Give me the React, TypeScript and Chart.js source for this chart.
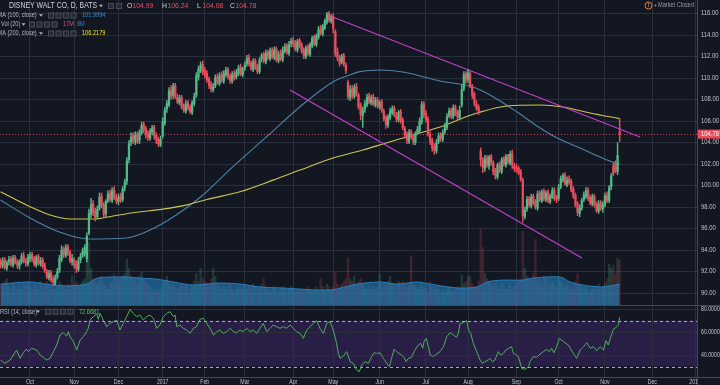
import React, { useEffect, useRef } from 'react';
import { Chart, registerables } from 'chart.js';
Chart.register(...registerables);

// ---------------- DATA ----------------
const monthTickIdx = [14, 35, 56, 77, 97, 116, 139, 158, 180, 202, 222, 245, 265, 287, 309.5, 329.8];
const monthLabels = ['Oct', 'Nov', 'Dec', '2017', 'Feb', 'Mar', 'Apr', 'May', 'Jun', 'Jul', 'Aug', 'Sep', 'Oct', 'Nov', 'Dec', '2018'];
const priceTicks = [90, 92, 94, 96, 98, 100, 102, 104, 106, 108, 110, 112, 114, 116];
const rsiTicks = [40, 60, 80];
const rsiBand = [70, 30];
const lastPrice = 104.78;

const opens = [
  92.9, 92.5, 93.1, 92.3, 92.9, 93.2, 92.6, 93.3, 92.9, 92.5, 92.9, 93.5, 93.0, 92.7,
  93.2, 93.6, 93.2, 92.6, 93.4, 92.7, 93.1, 92.6, 92.0, 91.4, 91.9, 91.3, 90.9, 91.5, 92.1, 93.1, 94.1, 93.5, 94.3, 93.8, 92.9,
  93.1, 92.7, 92.2, 93.1, 93.5, 93.7, 93.2, 95.6, 97.3, 98.3, 97.6, 97.1, 97.9, 99.0, 98.2, 97.4, 98.6, 99.3, 98.6, 99.6, 98.9,
  98.5, 99.0, 98.7, 99.8, 100.4, 102.4, 104.0, 104.6, 104.1, 104.8, 104.2, 104.9, 105.7, 105.3, 104.8, 104.4, 105.0, 105.4, 104.7, 104.3, 103.8,
  104.6, 105.8, 107.1, 107.5, 108.9, 108.4, 109.3, 108.2, 107.7, 108.2, 107.4, 106.9, 107.7, 107.3, 106.8, 107.6, 108.4, 110.1, 110.7, 111.3,
  110.7, 110.4, 109.9, 109.4, 108.9, 109.3, 110.1, 109.5, 110.3, 109.7, 110.3, 110.8, 110.2, 109.7, 110.4, 110.1, 110.4, 111.0, 110.3,
  110.9, 111.3, 111.9, 111.4, 110.8, 111.6, 111.1, 110.6, 111.8, 112.2, 111.5, 112.4, 111.8, 112.6, 111.9, 112.7, 111.6, 112.3, 111.7, 112.5, 113.0, 112.3, 113.2,
  113.5, 113.3, 112.6, 113.5, 113.1, 112.6, 112.0, 112.9, 112.2, 113.0, 113.8, 113.1, 113.8, 114.6, 114.1, 114.7, 115.2, 116.0, 115.3,
  115.7, 114.3, 112.4, 111.8, 111.5, 112.1, 111.2, 109.6, 108.2, 109.0, 108.3, 109.2, 108.4, 107.5, 106.5, 107.1, 107.5, 108.3, 107.7, 108.2, 107.5, 108.0,
  107.3, 107.8, 106.9, 106.3, 105.6, 106.3, 106.8, 107.2, 106.5, 106.1, 106.9, 106.1, 105.3, 104.8, 104.1, 105.0, 104.6, 104.0, 104.9, 105.1, 105.9, 107.6,
  106.7, 106.2, 104.7, 104.2, 103.6, 103.2, 104.1, 104.7, 104.3, 105.0, 105.4, 106.5, 107.0, 106.4, 107.3, 106.8, 106.3, 107.5, 109.0, 110.4,
  109.9, 110.4, 109.2, 108.5, 107.6, 107.3, 103.2, 102.3, 101.6, 102.6, 101.8, 102.7, 102.1, 101.4, 100.8, 102.0, 101.3, 102.5, 101.9, 102.8, 102.1, 103.0, 101.8,
  101.7, 101.6, 101.3, 100.5, 97.1, 97.8, 98.8, 98.1, 99.0, 98.5, 97.9, 99.3, 98.6, 99.5, 98.7, 99.4, 98.5, 98.9, 99.6, 98.9,
  98.8, 99.9, 100.5, 101.0, 100.1, 100.6, 100.4, 99.7, 99.1, 98.3, 97.4, 97.9, 98.7, 99.0, 99.6, 98.9, 98.3, 99.0, 98.3, 97.6, 98.4, 97.8,
  98.2, 99.1, 98.6, 99.9, 101.8, 102.0, 101.3, 104.99,
];
const highs = [
  93.2, 93.3, 93.3, 93.0, 93.4, 93.4, 93.5, 93.5, 93.1, 93.1, 93.7, 93.8, 93.2, 93.6,
  93.8, 93.8, 93.4, 93.5, 93.6, 93.3, 93.3, 92.8, 92.2, 92.1, 92.1, 91.6, 91.7, 92.3, 93.5, 94.4, 94.3, 94.5, 94.5, 94.0, 93.6,
  93.3, 93.0, 93.3, 93.7, 94.2, 94.5, 95.6, 97.8, 98.8, 98.6, 97.9, 98.1, 99.3, 99.3, 98.4, 98.7, 99.5, 99.6, 99.8, 99.9, 99.2,
  99.2, 99.3, 99.9, 100.6, 102.6, 104.2, 104.9, 104.9, 105.0, 105.0, 105.2, 105.9, 105.9, 105.5, 105.1, 105.3, 105.6, 105.6, 104.9, 104.5, 104.6,
  106.3, 107.3, 107.9, 109.1, 109.3, 109.5, 109.5, 108.5, 108.4, 108.4, 107.6, 107.9, 107.9, 107.5, 107.9, 108.6, 110.5, 111.1, 111.5, 111.6,
  111.0, 110.7, 110.1, 109.7, 109.5, 110.3, 110.4, 110.5, 110.6, 110.7, 111.0, 111.0, 110.4, 110.6, 110.7, 110.8, 111.2, 111.3, 111.0,
  111.5, 112.1, 112.2, 111.6, 111.8, 111.8, 111.3, 111.9, 112.3, 112.4, 112.6, 112.6, 112.8, 112.8, 112.9, 112.9, 112.5, 112.6, 112.9, 113.2, 113.2, 113.4, 113.7,
  113.8, 113.5, 113.6, 113.7, 113.3, 112.8, 113.0, 113.1, 113.3, 113.9, 114.0, 114.1, 114.8, 114.9, 115.0, 115.5, 116.1, 116.2, 115.9,
  116.0, 114.5, 112.8, 112.1, 112.2, 112.3, 111.4, 109.8, 109.3, 109.3, 109.4, 109.5, 108.6, 107.7, 107.3, 107.9, 108.5, 108.6, 108.4, 108.5, 108.2, 108.2,
  107.9, 108.0, 107.1, 106.5, 106.6, 107.2, 107.4, 107.4, 106.8, 107.0, 107.1, 106.3, 105.5, 105.0, 105.2, 105.2, 104.8, 105.0, 105.5, 106.3, 107.8, 107.8,
  107.0, 106.4, 105.0, 104.4, 103.9, 104.3, 104.9, 104.9, 105.2, 105.8, 106.7, 107.2, 107.2, 107.5, 107.5, 107.0, 107.4, 109.4, 110.6, 110.6,
  110.8, 110.6, 109.4, 108.7, 107.9, 107.5, 103.5, 102.6, 102.8, 102.8, 102.8, 102.9, 102.3, 101.6, 102.1, 102.2, 102.6, 102.7, 102.9, 102.9, 103.2, 103.3, 102.1,
  102.0, 101.8, 101.5, 100.7, 98.0, 99.0, 99.0, 99.2, 99.2, 98.7, 99.5, 99.5, 99.6, 99.7, 99.5, 99.6, 99.2, 99.8, 99.8, 99.1,
  100.1, 100.9, 101.1, 101.2, 100.8, 100.9, 100.6, 99.9, 99.3, 98.5, 98.2, 98.8, 99.4, 99.8, 99.8, 99.1, 99.2, 99.2, 98.5, 98.6, 98.6, 98.5,
  99.3, 99.4, 100.0, 101.1, 102.1, 102.3, 104.0, 106.24,
];
const lows = [
  92.3, 92.3, 92.2, 92.1, 92.6, 92.5, 92.4, 92.7, 92.3, 92.2, 92.7, 92.8, 92.5, 92.5,
  92.9, 92.9, 92.5, 92.4, 92.6, 92.5, 92.3, 91.9, 91.3, 91.2, 91.0, 90.7, 90.7, 91.3, 91.9, 92.9, 93.3, 93.3, 93.5, 92.8, 92.6,
  92.3, 91.9, 92.0, 92.8, 93.3, 93.4, 92.9, 95.4, 97.0, 97.2, 96.7, 96.9, 97.7, 97.9, 97.0, 97.1, 98.4, 98.5, 98.4, 98.7, 98.3,
  98.2, 98.4, 98.5, 99.5, 100.1, 102.1, 103.7, 103.9, 103.8, 103.9, 103.9, 104.7, 104.9, 104.4, 104.2, 104.2, 104.7, 104.3, 103.9, 103.6, 103.6,
  104.4, 105.6, 106.8, 107.3, 108.0, 108.1, 108.1, 107.6, 107.5, 107.1, 106.8, 106.7, 107.0, 106.7, 106.6, 107.4, 108.2, 109.8, 110.5, 110.3,
  110.0, 109.6, 109.0, 108.7, 108.7, 109.1, 109.4, 109.3, 109.6, 109.5, 110.1, 109.9, 109.5, 109.5, 109.8, 109.9, 110.2, 110.2, 110.1,
  110.7, 111.1, 111.1, 110.7, 110.6, 110.8, 110.4, 110.4, 111.5, 111.4, 111.3, 111.7, 111.6, 111.8, 111.7, 111.5, 111.4, 111.6, 111.5, 112.3, 112.2, 112.1, 112.9,
  112.9, 112.5, 112.4, 112.8, 112.3, 111.8, 111.8, 112.1, 112.0, 112.8, 113.0, 112.9, 113.6, 114.0, 113.9, 114.5, 115.0, 115.2, 115.1,
  114.2, 112.0, 111.6, 111.1, 111.3, 111.1, 110.4, 108.0, 107.9, 108.1, 108.1, 108.3, 107.1, 106.1, 105.4, 106.8, 107.3, 107.6, 107.5, 107.4, 107.3, 107.2,
  107.1, 106.8, 106.0, 105.3, 105.4, 106.1, 106.6, 106.4, 105.9, 105.9, 105.8, 105.2, 104.4, 103.9, 103.9, 104.3, 103.8, 103.8, 104.7, 104.9, 105.7, 106.3,
  105.9, 104.6, 103.8, 103.2, 102.9, 103.0, 103.9, 104.1, 104.1, 104.8, 105.2, 106.3, 106.2, 106.2, 106.5, 106.1, 106.1, 107.3, 108.8, 109.5,
  109.6, 109.1, 108.1, 107.4, 107.0, 106.6, 101.8, 101.2, 101.3, 101.7, 101.5, 101.9, 101.0, 100.6, 100.6, 101.2, 101.1, 101.8, 101.7, 102.0, 101.9, 101.6, 101.3,
  101.2, 101.0, 100.4, 96.6, 96.9, 97.6, 98.0, 97.9, 98.2, 97.8, 97.7, 98.5, 98.4, 98.6, 98.5, 98.4, 98.3, 98.8, 98.6, 98.4,
  98.6, 99.7, 100.3, 100.0, 99.9, 100.1, 99.4, 98.8, 98.0, 97.2, 97.1, 97.7, 98.5, 98.8, 98.6, 98.2, 98.1, 98.0, 97.5, 97.4, 97.7, 97.5,
  98.0, 98.4, 98.4, 99.6, 100.9, 101.2, 101.0, 104.08,
];
const closes = [
  92.6, 93.0, 92.4, 92.8, 93.1, 92.7, 93.2, 92.9, 92.6, 92.9, 93.4, 93.0, 92.8, 93.3,
  93.5, 93.1, 92.7, 93.3, 92.8, 93.0, 92.5, 92.1, 91.5, 91.8, 91.2, 91.0, 91.4, 92.0, 93.2, 94.0, 93.6, 94.2, 93.7, 93.0, 93.2,
  92.6, 92.3, 93.0, 93.4, 93.9, 94.2, 95.3, 97.4, 98.2, 97.5, 97.0, 97.8, 98.9, 98.1, 97.3, 98.5, 99.2, 98.7, 99.5, 98.9, 98.6,
  98.9, 98.6, 99.7, 100.3, 102.3, 103.9, 104.5, 104.2, 104.7, 104.1, 104.9, 105.6, 105.2, 104.7, 104.5, 105.0, 105.3, 104.6, 104.2, 103.9, 104.3,
  105.9, 107.0, 107.6, 108.8, 108.3, 109.2, 108.3, 107.8, 108.1, 107.3, 107.0, 107.6, 107.2, 106.9, 107.7, 108.3, 110.2, 110.8, 111.2, 110.6,
  110.3, 109.8, 109.3, 109.0, 109.2, 110.0, 109.6, 110.2, 109.8, 110.4, 110.7, 110.1, 109.8, 110.3, 110.0, 110.5, 110.9, 110.4, 110.8,
  111.2, 111.8, 111.3, 110.9, 111.5, 111.0, 110.6, 111.7, 112.1, 111.6, 112.3, 111.9, 112.5, 112.0, 112.6, 111.7, 112.2, 111.8, 112.6, 112.9, 112.4, 113.1, 113.4,
  113.2, 112.7, 113.4, 113.0, 112.5, 112.1, 112.8, 112.3, 113.1, 113.7, 113.2, 113.9, 114.5, 114.2, 114.8, 115.3, 115.9, 115.4, 115.6,
  114.6, 112.3, 111.9, 111.4, 112.0, 111.3, 110.7, 108.3, 108.9, 108.4, 109.1, 108.5, 107.3, 106.6, 107.0, 107.6, 108.2, 107.8, 108.1, 107.6, 107.9, 107.4,
  107.7, 107.0, 106.2, 105.7, 106.4, 106.9, 107.1, 106.6, 106.2, 106.8, 106.0, 105.4, 104.7, 104.2, 104.9, 104.5, 104.1, 104.8, 105.2, 106.0, 107.5, 106.6,
  106.1, 104.8, 104.1, 103.5, 103.3, 104.0, 104.6, 104.4, 104.9, 105.5, 106.4, 106.9, 106.5, 107.2, 106.7, 106.4, 107.0, 108.9, 110.3, 109.8,
  110.5, 109.3, 108.4, 107.7, 107.2, 106.9, 102.4, 101.7, 102.5, 101.9, 102.6, 102.2, 101.3, 100.9, 101.9, 101.4, 102.4, 102.0, 102.7, 102.2, 102.9, 101.9, 101.6,
  101.5, 101.2, 100.6, 97.2, 97.7, 98.7, 98.2, 98.9, 98.4, 98.0, 99.2, 98.7, 99.4, 98.8, 99.3, 98.6, 99.0, 99.5, 98.8, 98.7,
  99.8, 100.6, 100.9, 100.2, 100.5, 100.3, 99.6, 99.0, 98.2, 97.5, 97.9, 98.6, 99.1, 99.5, 98.8, 98.4, 98.9, 98.2, 97.7, 98.3, 97.9, 98.2,
  99.0, 98.6, 99.8, 100.9, 101.1, 101.4, 102.8, 104.78,
];
// volume in millions
const volumes = [
  8, 7, 9, 10, 7, 6, 8, 7, 6, 7, 6, 8, 7, 8,
  7, 6, 8, 7, 6, 9, 7, 8, 9, 8, 7, 8, 6, 7, 9, 8, 7, 6, 8, 7, 11,
  8, 9, 7, 8, 9, 10, 18, 24, 14, 10, 9, 8, 9, 11, 8, 7, 6, 8, 9, 12, 10,
  9, 10, 11, 12, 17.5, 14, 11, 10, 9, 8, 11, 12.5, 10, 9, 8, 7, 6, 5, 6, 5, 6,
  8, 9, 11, 8, 7, 8, 7, 6, 7, 8, 7, 8, 7, 6, 8, 9, 12, 9, 14, 10,
  9, 8, 7, 10, 14, 11, 8, 7, 6, 7, 6, 7, 8, 6, 5, 6, 7, 6, 7,
  7, 6, 7, 6, 8, 7, 6, 7, 8, 10, 7, 6, 5, 6, 7, 6, 5, 6, 7, 6, 5, 6, 7,
  6, 5, 6, 5, 6, 5, 6, 7, 6, 5, 6, 7, 6, 10, 7, 6, 8, 7, 6,
  7, 12.6, 8, 7, 8, 9, 10, 18, 10, 9, 11, 8, 9, 10, 8, 7, 6, 7, 6, 7, 6, 7,
  11.8, 8, 7, 8, 9, 11, 8, 7, 8, 9, 8, 9, 8, 7, 8, 18.7, 8, 7, 6, 7, 8, 7,
  6, 5, 9, 7, 6, 7, 6, 5, 6, 5, 6, 7, 6, 5, 6, 7, 6, 11.5, 8, 9,
  11, 11, 8, 7, 7, 9, 29, 22, 12, 10, 9, 8, 7, 8, 7, 6, 8, 7, 6, 7, 8, 6, 7,
  8, 9, 10, 28, 14, 11, 10, 9, 12, 25, 9, 10, 8, 11, 10, 9, 8, 9, 8, 7,
  10, 9, 8, 7, 8, 7, 6, 7, 9, 12, 8, 7, 6, 7, 6, 5, 7, 6, 7, 8, 6, 7,
  8, 10, 15.6, 14, 15, 12, 18, 17,
];

const ma100Idx = [0, 14, 28, 41.6, 60, 71, 82, 95, 110.4, 126.4, 142.2, 158, 164.5, 170.7, 180.2, 191, 208.7, 224.4, 232.4, 245.3, 256.2, 264.3, 275.2, 284.7, 291.8, 294];
const ma100Vals = [98.65, 96.98, 95.67, 95.02, 95.12, 95.86, 97.07, 98.93, 101.75, 104.54, 107.33, 109.66, 110.19, 110.59, 110.74, 110.56, 109.72, 109.16, 108.42, 106.84, 105.35, 104.42, 103.49, 102.65, 102.1, 101.9994];

const ma200Idx = [0, 14, 23.5, 33, 44, 52, 63, 77, 88.6, 98, 113.7, 129.4, 142.2, 157.9, 172, 181.6, 195.9, 208.7, 219.6, 226.3, 240.5, 256.2, 267.1, 279.9, 294];
const ma200Vals = [99.42, 98.03, 97.26, 96.88, 96.88, 97.1, 97.47, 97.8, 98.2, 98.7, 99.42, 100.5, 101.44, 102.56, 103.3, 103.86, 104.7, 105.44, 106.28, 106.74, 107.4, 107.49, 107.3, 106.74, 106.2179];

const volMaIdx = [0, 14, 22, 31.6, 41, 46, 60, 66, 74, 82, 91.4, 103, 114, 123, 134, 156.5, 169.3, 180.2, 188.3, 197.8, 204, 216.8, 226.3, 231, 238.6, 248, 252.8, 265.7, 270.4, 276.6, 286.1, 294];
const volMaVals = [8.0, 8.8, 8.0, 7.3, 8.0, 10.3, 10.7, 10.3, 9.9, 8.8, 7.6, 8.4, 8.0, 6.9, 6.5, 5.7, 8.0, 8.8, 8.0, 8.8, 8.0, 6.5, 6.9, 8.8, 9.5, 9.5, 10.3, 10.7, 8.8, 7.6, 6.9, 8.0];

const rsiIdx = [
  0, 2.1, 4.5, 6.1, 7.7, 9.3, 10.8, 12.4, 13.2, 14.8, 17.2, 18.8, 20.3, 21.9, 23.5, 25.1, 26.7, 28.3, 29.8, 31.4,
  32.2, 33.0, 34.6, 36.2, 37.8, 39.3, 40.9, 41.7, 42.5, 44.1, 45.7, 46.5, 47.2, 48.8, 50.4, 52.0, 53.6, 55.2, 56.0, 56.7,
  58.3, 59.9, 61.5, 63.1, 64.7, 66.2, 67.8, 69.4, 71.0, 72.6, 74.2, 75.7, 77.3, 78.9, 80.5, 82.1, 82.9, 83.7, 85.2, 86.8,
  88.4, 90.0, 91.6, 93.1, 94.7, 96.3, 97.9, 99.5, 101.1, 102.7, 104.2, 105.8, 107.4, 109.0, 110.6, 112.1, 113.7, 115.3, 116.9, 118.5,
  120.1, 121.6, 123.2, 124.8, 126.4, 128.0, 129.5, 131.1, 132.7, 134.3, 135.9, 137.5, 139.0, 140.6, 142.2, 143.8, 145.4, 147.0, 148.5, 150.1,
  151.7, 153.3, 154.9, 156.5, 158.0, 159.6, 160.4, 161.2, 162.8, 164.4, 166.0, 167.5, 169.1, 170.4, 171.5, 173.1, 174.7, 176.2, 177.4, 178.6,
  180.2, 181.8, 183.4, 184.6, 185.7, 186.9, 188.1, 189.7, 191.3, 192.6, 193.7, 195.2, 196.8, 198.4, 199.5, 200.5, 201.1, 202.1, 203.2, 204.0,
  205.5, 207.1, 208.7, 210.3, 211.9, 213.5, 215.0, 216.6, 217.4, 218.2, 219.8, 221.4, 222.2, 223.3, 224.5, 226.1, 227.7, 228.8, 230.1, 231.7,
  232.4, 233.7, 234.8, 236.4, 237.5, 238.8, 240.0, 241.2, 242.7, 243.5, 244.3, 245.9, 247.5, 249.1, 250.7, 251.4, 253.0, 254.6, 256.2, 257.8,
  259.4, 260.6, 261.7, 262.8, 264.1, 265.4, 267.3, 269.6, 272.0, 273.6, 275.2, 276.8, 278.4, 280.0, 281.5, 283.1, 284.7, 286.3, 287.5, 288.6,
  289.8, 291.0, 292.3, 293.4, 294.0,
];
const rsiVals = [
  35.6, 32.7, 35.6, 40.0, 44.3, 37.1, 42.0, 45.2, 42.9, 45.8, 44.3, 40.0, 37.9, 35.6, 37.1, 42.9, 48.7, 57.4, 59.4, 56.5,
  60.3, 55.9, 51.6, 44.3, 53.0, 55.9, 60.3, 63.2, 70.4, 73.3, 75.6, 71.0, 76.2, 70.4, 64.6, 67.5, 69.0, 70.4, 66.1, 61.7,
  67.5, 73.3, 79.7, 76.2, 73.3, 74.8, 70.4, 73.3, 74.8, 71.9, 63.2, 66.1, 73.3, 76.2, 77.7, 73.3, 74.8, 64.6, 66.1, 63.2,
  61.7, 58.8, 63.2, 64.6, 71.0, 71.9, 67.5, 63.2, 57.4, 60.3, 61.7, 58.8, 60.3, 63.2, 60.3, 59.4, 61.7, 60.3, 63.2, 60.3,
  61.7, 58.8, 63.2, 67.5, 60.3, 63.2, 66.1, 64.6, 63.2, 64.6, 63.2, 66.1, 63.2, 60.3, 58.8, 54.5, 61.7, 64.6, 67.5, 69.8,
  63.2, 58.8, 67.5, 69.0, 61.7, 50.1, 41.4, 37.1, 39.1, 42.9, 34.2, 32.8, 27.0, 25.5, 31.3, 34.2, 32.8, 38.6, 42.0, 41.4,
  42.0, 37.1, 32.8, 29.9, 37.1, 44.9, 42.9, 40.9, 38.6, 34.2, 37.1, 38.0, 44.3, 48.7, 50.2, 45.8, 51.6, 54.5, 47.2, 40.0,
  38.6, 40.9, 42.9, 47.2, 55.9, 59.4, 57.4, 55.4, 58.8, 67.5, 68.1, 69.9, 61.7, 58.8, 50.1, 42.9, 35.7, 32.8, 34.2, 35.7,
  37.1, 34.2, 35.7, 42.9, 40.0, 41.4, 44.3, 45.8, 47.2, 41.4, 40.9, 38.6, 28.4, 27.5, 29.9, 34.2, 38.6, 38.0, 40.9, 42.9,
  44.9, 42.9, 45.8, 42.0, 47.2, 54.5, 51.6, 48.7, 41.4, 37.1, 44.3, 47.2, 50.7, 45.8, 47.2, 43.8, 47.2, 44.3, 52.5, 48.7,
  55.9, 62.3, 64.1, 66.1, 72.6681,
];

const upperTrendIdx = [156.5, 303.7];
const upperTrendVals = [115.77, 104.51];
const lowerTrendIdx = [137.5, 276.1];
const lowerTrendVals = [108.88, 93.26];

// ---------------- LAYOUT / STYLE ----------------
const BG = '#131722';
const GRID = '#2b2f3c';
const AXIS_LINE = '#454955';
const TXT = '#c3c6ce';
const UP = '#53b987';
const DOWN = '#eb4d5c';
const FONT = '"Liberation Sans", Arial, Helvetica, sans-serif';
const PLOT_W = 697;
const PRICE_H = 305;
const RSI_H = 80;
const X_MIN = -0.237;
const X_MAX = 330.72;
const PRICE_MIN = 88.884;
const PRICE_MAX = 117.256;
const VOL_MAX = 116.4;
const RSI_MIN = 20.87;
const RSI_MAX = 83.48;

function drawText(ctx: CanvasRenderingContext2D, text: string, x: number, y: number, size: number, color: string,
  opts: { sx?: number; w?: number; align?: 'left' | 'center' | 'right'; bold?: boolean } = {}) {
  ctx.save();
  ctx.font = `${opts.bold ? 'bold ' : ''}${size}px ${FONT}`;
  ctx.fillStyle = color;
  ctx.textBaseline = 'middle';
  ctx.textAlign = 'left';
  const m = ctx.measureText(text).width;
  let sx = opts.sx ?? 1;
  if (opts.w) sx = opts.w / m;
  const width = m * sx;
  let left = x;
  if (opts.align === 'center') left = x - width / 2;
  if (opts.align === 'right') left = x - width;
  ctx.translate(left, y);
  ctx.scale(sx, 1);
  ctx.fillText(text, 0, 0);
  ctx.restore();
}
function tri(ctx: CanvasRenderingContext2D, x: number, y: number, color: string) {
  ctx.save();
  ctx.fillStyle = color;
  ctx.beginPath();
  ctx.moveTo(x, y - 1.2);
  ctx.lineTo(x + 4, y - 1.2);
  ctx.lineTo(x + 2, y + 1.3);
  ctx.closePath();
  ctx.fill();
  ctx.restore();
}
function boxes(ctx: CanvasRenderingContext2D, xs: number[], yc: number) {
  ctx.save();
  xs.forEach((x) => {
    ctx.fillStyle = '#262a35';
    ctx.fillRect(x, yc - 3, 6, 6);
    ctx.strokeStyle = '#474b57';
    ctx.lineWidth = 1;
    ctx.strokeRect(x + 0.5, yc - 2.5, 5, 5);
  });
  ctx.restore();
}
function hline(ctx: CanvasRenderingContext2D, x0: number, x1: number, y: number, color: string, dash: number[] = []) {
  ctx.save();
  ctx.strokeStyle = color;
  ctx.lineWidth = 1;
  ctx.setLineDash(dash);
  ctx.beginPath();
  ctx.moveTo(x0, y);
  ctx.lineTo(x1, y);
  ctx.stroke();
  ctx.restore();
}
function vline(ctx: CanvasRenderingContext2D, x: number, y0: number, y1: number, color: string) {
  ctx.save();
  ctx.strokeStyle = color;
  ctx.lineWidth = 1;
  ctx.beginPath();
  ctx.moveTo(x, y0);
  ctx.lineTo(x, y1);
  ctx.stroke();
  ctx.restore();
}

const xScale = {
  type: 'linear' as const,
  min: X_MIN,
  max: X_MAX,
  offset: false,
  border: { display: false },
  grid: { color: GRID, drawTicks: false, offset: false },
  ticks: { display: false },
  afterBuildTicks: (s: any) => { s.ticks = monthTickIdx.map((v) => ({ value: v })); },
};

export default function App() {
  const priceRef = useRef<HTMLCanvasElement>(null);
  const rsiRef = useRef<HTMLCanvasElement>(null);

  useEffect(() => {
    const n = Math.min(opens.length, highs.length, lows.length, closes.length);
    const idx = Array.from({ length: n }, (_, i) => i);
    const isUp = (i: number) => closes[i] >= opens[i];
    const candleColors = idx.map((i) => (isUp(i) ? UP : DOWN));
    const volColors = idx.map((i) => (isUp(i) ? 'rgba(83,185,135,0.22)' : 'rgba(235,77,92,0.22)'));
    const pts = (xs: number[], ys: number[]) => xs.map((x, i) => ({ x, y: ys[i] }));

    const pricePlugin = {
      id: 'priceDecor',
      beforeDraw(chart: any) {
        const ctx = chart.ctx;
        ctx.save();
        ctx.fillStyle = BG;
        ctx.fillRect(0, 0, chart.width, chart.height);
        ctx.restore();
      },
      beforeDatasetsDraw(chart: any) {
        const y = Math.round(chart.scales.y.getPixelForValue(lastPrice)) + 0.5;
        hline(chart.ctx, 0, PLOT_W, y, 'rgba(235,77,92,0.8)', [1, 2]);
      },
      afterDraw(chart: any) {
        const ctx = chart.ctx as CanvasRenderingContext2D;
        const ys = chart.scales.y;
        ctx.save();
        ctx.fillStyle = BG;
        ctx.fillRect(PLOT_W, 0, 720 - PLOT_W, PRICE_H);
        ctx.restore();
        vline(ctx, PLOT_W + 0.5, 0, PRICE_H, AXIS_LINE);
        priceTicks.forEach((p) => {
          drawText(ctx, p.toFixed(2), 701, ys.getPixelForValue(p), 7, TXT, { sx: 0.84 });
        });
        const yl = ys.getPixelForValue(lastPrice);
        ctx.save();
        ctx.fillStyle = DOWN;
        ctx.fillRect(PLOT_W + 1, yl - 4.5, 23, 9);
        ctx.restore();
        drawText(ctx, lastPrice.toFixed(2), 701, yl, 7, '#ffffff', { sx: 0.84 });

        // legend line 1
        drawText(ctx, 'DISNEY WALT CO, D, BATS', 9, 6, 8.5, '#d1d4dc', { w: 88 });
        tri(ctx, 99, 6, '#b2b5be');
        boxes(ctx, [108, 116], 6);
        const ohlc: [string, string, number][] = [
          ['O', opens[n - 1].toFixed(2), 127],
          ['H', highs[n - 1].toFixed(2), 162],
          ['L', lows[n - 1].toFixed(2), 197],
          ['C', closes[n - 1].toFixed(2), 230],
        ];
        ohlc.forEach(([k, v, x]) => {
          drawText(ctx, k, x, 6, 8, '#d1d4dc', { sx: 0.85 });
          drawText(ctx, v, x + 5.5, 6, 8, DOWN, { sx: 0.85 });
        });
        // line 2
        drawText(ctx, 'MA (100, close)', -2.5, 15.5, 7, '#b2b5be', { sx: 0.8 });
        tri(ctx, 39, 15.5, '#b2b5be');
        boxes(ctx, [48, 55.5, 63, 70.5], 15.5);
        drawText(ctx, ma100Vals[ma100Vals.length - 1].toFixed(4), 82, 15.5, 7, '#3f86c8', { sx: 0.8 });
        // line 3
        drawText(ctx, 'Vol (20)', 1, 24.5, 7, '#b2b5be', { sx: 0.8 });
        tri(ctx, 21.5, 24.5, '#b2b5be');
        boxes(ctx, [29, 36.5, 44, 51.5], 24.5);
        drawText(ctx, `${Math.round(volumes[n - 1])}M`, 63, 24.5, 7, DOWN, { sx: 0.8 });
        drawText(ctx, `${Math.round(volMaVals[volMaVals.length - 1])}M`, 77, 24.5, 7, '#2f7ed8', { sx: 0.8 });
        // line 4
        drawText(ctx, 'MA (200, close)', -2.5, 33.5, 7, '#b2b5be', { sx: 0.8 });
        tri(ctx, 39, 33.5, '#b2b5be');
        boxes(ctx, [48, 55.5, 63, 70.5], 33.5);
        drawText(ctx, ma200Vals[ma200Vals.length - 1].toFixed(4), 82, 33.5, 7, '#e8e631', { sx: 0.8 });

        // market closed
        ctx.save();
        ctx.strokeStyle = '#d9813d';
        ctx.lineWidth = 1;
        ctx.beginPath();
        ctx.arc(648.5, 5.5, 3.5, 0, Math.PI * 2);
        ctx.stroke();
        ctx.fillStyle = '#9598a1';
        ctx.beginPath();
        ctx.arc(655.5, 5.5, 0.9, 0, Math.PI * 2);
        ctx.fill();
        ctx.restore();
        drawText(ctx, '!', 648.5, 5.5, 6, '#d9813d', { align: 'center', bold: true });
        drawText(ctx, 'Market Closed', 658, 5.5, 7, '#9598a1', { sx: 0.8 });
      },
    };

    const priceChart = new Chart(priceRef.current as HTMLCanvasElement, {
      type: 'bar',
      data: {
        datasets: [
          {
            type: 'bar',
            label: 'body',
            data: idx.map((i) => ({ x: i, y: [opens[i], closes[i]] })) as any,
            backgroundColor: candleColors,
            barThickness: 1.6,
            minBarLength: 1,
            grouped: false,
            borderWidth: 0,
            yAxisID: 'y',
            order: 1,
          },
          {
            type: 'bar',
            label: 'wick',
            data: idx.map((i) => ({ x: i, y: [lows[i], highs[i]] })) as any,
            backgroundColor: candleColors,
            barThickness: 0.8,
            grouped: false,
            borderWidth: 0,
            yAxisID: 'y',
            order: 2,
          },
          {
            type: 'line',
            label: 'upper',
            data: pts(upperTrendIdx, upperTrendVals),
            borderColor: '#c23fc9',
            borderWidth: 1.2,
            pointRadius: 0,
            yAxisID: 'y',
            order: 3,
          },
          {
            type: 'line',
            label: 'lower',
            data: pts(lowerTrendIdx, lowerTrendVals),
            borderColor: '#c23fc9',
            borderWidth: 1.2,
            pointRadius: 0,
            yAxisID: 'y',
            order: 3,
          },
          {
            type: 'line',
            label: 'MA200',
            data: pts(ma200Idx, ma200Vals),
            borderColor: '#cdc64a',
            borderWidth: 1.1,
            pointRadius: 0,
            cubicInterpolationMode: 'monotone',
            yAxisID: 'y',
            order: 4,
          },
          {
            type: 'line',
            label: 'MA100',
            data: pts(ma100Idx, ma100Vals),
            borderColor: '#4f82a6',
            borderWidth: 1.1,
            pointRadius: 0,
            cubicInterpolationMode: 'monotone',
            yAxisID: 'y',
            order: 5,
          },
          {
            type: 'line',
            label: 'VolMA',
            data: pts(volMaIdx, volMaVals),
            borderColor: 'rgba(45,130,195,0.9)',
            borderWidth: 1,
            backgroundColor: 'rgba(38,128,195,0.6)',
            fill: 'origin',
            pointRadius: 0,
            tension: 0.3,
            yAxisID: 'yVol',
            order: 9,
          },
          {
            type: 'bar',
            label: 'Volume',
            data: idx.map((i) => ({ x: i, y: volumes[i] })),
            backgroundColor: volColors,
            barThickness: 1.6,
            grouped: false,
            borderWidth: 0,
            yAxisID: 'yVol',
            order: 10,
          },
        ],
      },
      options: {
        responsive: false,
        maintainAspectRatio: false,
        devicePixelRatio: 1,
        animation: false,
        events: [],
        layout: { padding: { left: 0, right: 720 - PLOT_W, top: 0, bottom: 0 } },
        plugins: { legend: { display: false }, tooltip: { enabled: false } },
        scales: {
          x: xScale as any,
          y: {
            type: 'linear',
            position: 'right',
            min: PRICE_MIN,
            max: PRICE_MAX,
            border: { display: false },
            grid: { color: GRID, drawTicks: false },
            ticks: { display: false },
            afterBuildTicks: (s: any) => { s.ticks = priceTicks.map((v) => ({ value: v })); },
          },
          yVol: { type: 'linear', display: false, min: 0, max: VOL_MAX },
        },
      },
      plugins: [pricePlugin],
    });

    const rsiPlugin = {
      id: 'rsiDecor',
      beforeDraw(chart: any) {
        const ctx = chart.ctx;
        ctx.save();
        ctx.fillStyle = BG;
        ctx.fillRect(0, 0, chart.width, chart.height);
        const ys = chart.scales.y;
        const y70 = ys.getPixelForValue(rsiBand[0]);
        const y30 = ys.getPixelForValue(rsiBand[1]);
        ctx.fillStyle = '#291e46';
        ctx.fillRect(0, y70, PLOT_W, y30 - y70);
        ctx.restore();
      },
      beforeDatasetsDraw(chart: any) {
        const ys = chart.scales.y;
        rsiBand.forEach((v) => {
          hline(chart.ctx, 0, PLOT_W, Math.round(ys.getPixelForValue(v)) + 0.5, 'rgba(205,207,215,0.8)', [3, 3]);
        });
      },
      afterDraw(chart: any) {
        const ctx = chart.ctx as CanvasRenderingContext2D;
        const ys = chart.scales.y;
        const xs = chart.scales.x;
        const bottom = chart.chartArea.bottom;
        ctx.save();
        ctx.fillStyle = BG;
        ctx.fillRect(PLOT_W, 0, 720 - PLOT_W, RSI_H);
        ctx.restore();
        hline(ctx, 0, 720, 0.5, AXIS_LINE);
        hline(ctx, 0, 720, Math.round(bottom) + 0.5, AXIS_LINE);
        vline(ctx, PLOT_W + 0.5, 0, RSI_H, AXIS_LINE);
        rsiTicks.forEach((v) => {
          drawText(ctx, v.toFixed(4), 701, ys.getPixelForValue(v), 6.5, TXT, { sx: 0.8 });
        });
        ctx.save();
        ctx.beginPath();
        ctx.rect(0, bottom + 1, PLOT_W, RSI_H - bottom);
        ctx.clip();
        monthTickIdx.forEach((v, i) => {
          drawText(ctx, monthLabels[i], xs.getPixelForValue(v), bottom + 4.8, 6.5, TXT, { sx: 0.8, align: 'center' });
        });
        ctx.restore();
        drawText(ctx, 'RSI (14, close)', 0, 6.7, 7, '#b2b5be', { sx: 0.8 });
        tri(ctx, 36, 6.7, '#b2b5be');
        boxes(ctx, [45, 52.5, 60, 67.5], 6.7);
        drawText(ctx, rsiVals[rsiVals.length - 1].toFixed(4), 79, 6.7, 7, '#4fd14f', { sx: 0.8 });
      },
    };

    const rsiChart = new Chart(rsiRef.current as HTMLCanvasElement, {
      type: 'line',
      data: {
        datasets: [
          {
            label: 'RSI',
            data: pts(rsiIdx, rsiVals),
            borderColor: '#4fae59',
            borderWidth: 1,
            pointRadius: 0,
            tension: 0,
            fill: false,
          },
        ],
      },
      options: {
        responsive: false,
        maintainAspectRatio: false,
        devicePixelRatio: 1,
        animation: false,
        events: [],
        layout: { padding: { left: 0, right: 720 - PLOT_W, top: 0, bottom: 8 } },
        plugins: { legend: { display: false }, tooltip: { enabled: false } },
        scales: {
          x: xScale as any,
          y: {
            type: 'linear',
            position: 'right',
            min: RSI_MIN,
            max: RSI_MAX,
            border: { display: false },
            grid: { color: GRID, drawTicks: false },
            ticks: { display: false },
            afterBuildTicks: (s: any) => { s.ticks = rsiTicks.map((v) => ({ value: v })); },
          },
        },
      },
      plugins: [rsiPlugin],
    });

    return () => {
      priceChart.destroy();
      rsiChart.destroy();
    };
  }, []);

  return (
    <div style={{ position: 'fixed', left: 0, top: 0, width: 720, height: 385, background: BG, overflow: 'hidden' }}>
      <canvas ref={priceRef} width={720} height={PRICE_H} style={{ position: 'absolute', left: 0, top: 0, width: 720, height: PRICE_H }} />
      <canvas ref={rsiRef} width={720} height={RSI_H} style={{ position: 'absolute', left: 0, top: PRICE_H, width: 720, height: RSI_H }} />
    </div>
  );
}
